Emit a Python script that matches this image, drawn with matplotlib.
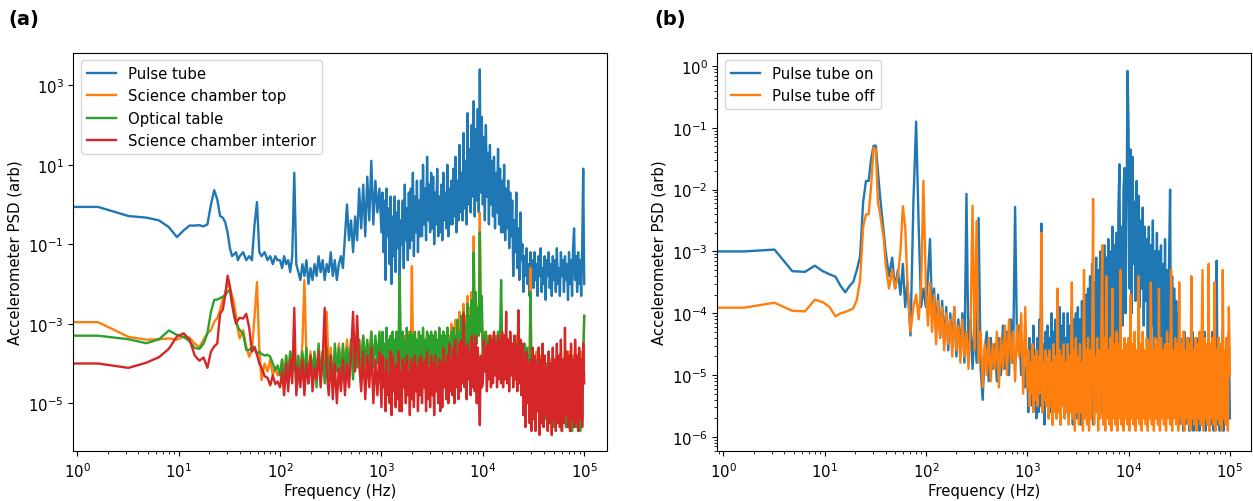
import numpy as np
import matplotlib.pyplot as plt
from matplotlib.ticker import NullLocator, NullFormatter

plt.rcParams["font.size"] = 10.7
plt.rcParams["lines.linewidth"] = 1.7

# frequency bins (Hz) below 100 Hz, then log10(f) from 100 Hz to 1 kHz and from 1 kHz to 100 kHz
freq_low = [0, 1.6, 3.2, 4.8, 6.4, 8.0, 9.6, 11.2, 12.8, 14.4,
            16, 17.6, 19.2, 20.8, 22.4, 24, 25.6, 27.2, 28.8, 30.4,
            32, 33.6, 35.2, 36.8, 38.4, 40, 43.2, 46.4, 49.6, 52.8,
            56, 59.2, 62.4, 65.6, 70.4, 75.2, 80, 84.8, 89.6, 94.4]
logf_mid = [2.00, 2.02, 2.04, 2.06, 2.08, 2.10, 2.12, 2.14, 2.16, 2.18,
            2.20, 2.22, 2.24, 2.26, 2.28, 2.30, 2.32, 2.34, 2.36, 2.38,
            2.40, 2.42, 2.44, 2.46, 2.48, 2.50, 2.52, 2.54, 2.56, 2.58,
            2.60, 2.62, 2.64, 2.66, 2.68, 2.70, 2.72, 2.74, 2.76, 2.78,
            2.80, 2.82, 2.84, 2.86, 2.88, 2.90, 2.92, 2.94, 2.96, 2.98]
logf_top = [3.00, 3.01, 3.02, 3.03, 3.04, 3.05, 3.06, 3.07, 3.08, 3.09,
            3.10, 3.11, 3.12, 3.13, 3.14, 3.15, 3.16, 3.17, 3.18, 3.19,
            3.20, 3.21, 3.22, 3.23, 3.24, 3.25, 3.26, 3.27, 3.28, 3.29,
            3.30, 3.31, 3.32, 3.33, 3.34, 3.35, 3.36, 3.37, 3.38, 3.39,
            3.40, 3.41, 3.42, 3.43, 3.44, 3.45, 3.46, 3.47, 3.48, 3.49,
            3.50, 3.51, 3.52, 3.53, 3.54, 3.55, 3.56, 3.57, 3.58, 3.59,
            3.60, 3.61, 3.62, 3.63, 3.64, 3.65, 3.66, 3.67, 3.68, 3.69,
            3.70, 3.71, 3.72, 3.73, 3.74, 3.75, 3.76, 3.77, 3.78, 3.79,
            3.80, 3.81, 3.82, 3.83, 3.84, 3.85, 3.86, 3.87, 3.88, 3.89,
            3.90, 3.91, 3.92, 3.93, 3.94, 3.95, 3.96, 3.97, 3.98, 3.99,
            4.00, 4.01, 4.02, 4.03, 4.04, 4.05, 4.06, 4.07, 4.08, 4.09,
            4.10, 4.11, 4.12, 4.13, 4.14, 4.15, 4.16, 4.17, 4.18, 4.19,
            4.20, 4.21, 4.22, 4.23, 4.24, 4.25, 4.26, 4.27, 4.28, 4.29,
            4.30, 4.31, 4.32, 4.33, 4.34, 4.35, 4.36, 4.37, 4.38, 4.39,
            4.40, 4.41, 4.42, 4.43, 4.44, 4.45, 4.46, 4.47, 4.48, 4.49,
            4.50, 4.51, 4.52, 4.53, 4.54, 4.55, 4.56, 4.57, 4.58, 4.59,
            4.60, 4.61, 4.62, 4.63, 4.64, 4.65, 4.66, 4.67, 4.68, 4.69,
            4.70, 4.71, 4.72, 4.73, 4.74, 4.75, 4.76, 4.77, 4.78, 4.79,
            4.80, 4.81, 4.82, 4.83, 4.84, 4.85, 4.86, 4.87, 4.88, 4.89,
            4.90, 4.91, 4.92, 4.93, 4.94, 4.95, 4.96, 4.97, 4.98, 4.99,
            5.00]

# (a) log10 of PSD for each sensor
pt_low = [-0.06, -0.06, -0.29, -0.33, -0.40, -0.57, -0.82, -0.65, -0.53, -0.53,
          -0.52, -0.55, -0.50, 0.00, 0.36, 0.13, -0.29, -0.33, -0.45, -0.71,
          -1.10, -1.30, -1.25, -1.20, -1.40, -1.30, -1.20, -1.40, -1.30, -1.40,
          -0.50, 0.06, -1.20, -1.30, -1.20, -1.40, -1.30, -1.50, -1.30, -1.40]
pt_mid = [-1.4, -1.6, -1.3, -1.5, -1.4, -1.7, -1.3, 0.8, -1.5, -1.7,
          -1.9, -1.5, -1.8, -1.4, -2.0, -1.6, -1.9, -1.5, -1.8, -1.3,
          -1.7, -1.4, -1.9, -1.5, -1.7, -1.2, -1.8, -1.4, -1.9, -1.5,
          -1.3, -1.6, -0.8, 0.0, -0.9, -0.4, -1.2, -0.3, -0.9, 0.4,
          -0.6, 0.5, -0.8, 0.7, -0.4, 1.1, -0.5, 0.6, -0.2, 0.4]
pt_top = [-0.7, 0.3, -1.2, 0.1, -1.9, 0.4, -0.8, -0.1, -1.5, 0.2,
          -2.0, -0.3, -1.3, 0.2, -1.7, -0.2, -1.1, 0.1, -1.8, -0.4,
          -1.0, 0.1, -1.6, 0.5, -0.9, -0.1, -1.4, 0.3, -1.1, 0.4,
          -0.9, 0.8, -1.3, 0.2, -0.7, 0.6, -1.2, 0.1, -0.8, 0.6,
          -0.8, 1.0, -0.5, 0.4, -0.9, 1.2, -0.4, 0.5, -0.7, 0.8,
          -0.6, 0.7, -1.0, 0.3, -0.5, 0.9, -0.8, 0.2, -0.7, 0.5,
          -0.9, 0.8, -0.4, 0.3, -0.6, 1.0, -0.8, 0.4, -0.5, 0.6,
          -0.5, 0.9, -0.3, 1.2, -0.7, 0.6, -0.4, 1.5, -0.2, 0.8,
          -0.4, 1.8, -0.1, 1.1, -0.5, 2.3, 0.0, 1.4, -0.2, 2.0,
          0.2, 2.6, -0.3, 1.9, 0.1, 2.4, -0.2, 3.4, 0.3, 2.2,
          0.0, 1.7, -0.4, 2.0, 0.2, 1.3, -0.5, 1.5, 0.0, 1.1,
          -0.3, 1.2, -0.6, 0.8, -0.2, 1.4, -0.5, 0.9, -0.7, 0.6,
          -0.7, 1.0, -0.9, 0.4, -0.6, 0.6, -1.1, 0.3, -0.8, 0.1,
          -1.8, -0.4, -1.2, 0.3, -1.6, -0.6, -1.9, -0.2, -1.4, -1.0,
          -2.2, -1.3, -1.8, -1.1, -2.0, -1.5, -2.3, -1.2, -1.7, -1.4,
          -2.1, -1.2, -1.9, -1.5, -2.3, -1.3, -1.8, -1.1, -2.2, -1.6,
          -2.0, -1.3, -2.4, -1.4, -1.8, -1.2, -2.1, -1.5, -2.3, -1.3,
          -1.9, -1.4, -2.2, -1.1, -2.0, -1.6, -2.3, -1.2, -1.8, -1.4,
          -2.2, -1.3, -1.9, -1.5, -2.4, -1.2, -2.0, -1.4, -2.3, -1.1,
          -0.6, -1.9, -1.3, -2.2, -1.2, -2.0, -1.4, -2.3, -1.1, 0.9,
          -2.0]

top_low = [-2.96, -2.96, -3.33, -3.40, -3.39, -3.37, -3.40, -3.33, -3.35, -3.50,
           -3.59, -3.40, -3.24, -3.16, -2.95, -2.86, -2.65, -2.40, -2.22, -1.97,
           -2.11, -2.28, -2.49, -2.82, -3.16, -3.37, -3.16, -3.58, -3.83, -3.66,
           -2.82, -1.95, -3.66, -4.42, -4.00, -4.20, -3.90, -4.30, -4.10, -4.30]
top_mid = [-4.2, -3.9, -4.4, -3.8, -4.3, -3.7, -4.1, -3.6, -4.3, -3.9,
           -4.2, -3.5, -1.9, -3.9, -4.3, -3.7, -4.4, -3.8, -4.2, -3.6,
           -4.3, -3.7, -4.0, -2.7, -4.2, -3.6, -4.5, -3.8, -4.1, -3.5,
           -4.2, -3.6, -4.0, -3.4, -4.1, -3.5, -3.9, -3.3, -4.0, -3.4,
           -3.9, -3.3, -4.2, -3.5, -3.8, -3.2, -4.1, -3.4, -3.9, -3.3]
top_top = [-4.1, -3.3, -3.8, -3.5, -4.2, -3.3, -3.9, -3.6, -4.0, -3.4,
           -3.9, -3.3, -4.2, -3.5, -3.8, -3.2, -4.1, -3.4, -3.9, -3.5,
           -4.0, -3.4, -3.8, -3.3, -4.2, -3.5, -3.9, -3.2, -4.1, -3.6,
           -1.55, -3.4, -4.0, -3.3, -3.8, -3.5, -4.1, -3.2, -3.9, -3.4,
           -4.0, -3.3, -3.8, -3.5, -4.1, -3.2, -3.9, -3.4, -4.0, -3.3,
           -3.8, -3.4, -4.1, -3.2, -3.9, -3.5, -4.0, -3.3, -3.8, -3.4,
           -3.9, -3.2, -4.0, -3.4, -3.7, -3.1, -3.9, -3.3, -3.8, -3.0,
           -3.7, -3.2, -3.9, -2.9, -3.6, -3.1, -3.8, -2.7, -3.5, -2.9,
           -3.6, -2.5, -3.4, -2.8, -3.5, -2.3, -3.3, -2.6, -3.4, -2.2,
           -3.3, -0.8, -3.2, -2.4, -3.4, -2.6, -3.1, -0.2, -3.0, -2.8,
           -3.8, -3.2, -4.0, -3.4, -3.7, -3.3, -3.9, -3.5, -4.1, -3.3,
           -3.9, -3.4, -4.2, -3.3, -3.8, -3.5, -4.0, -3.2, -4.1, -3.4,
           -4.0, -3.3, -3.9, -3.5, -4.2, -3.4, -3.8, -3.3, -4.1, -3.5,
           -3.9, -3.4, -4.2, -3.3, -4.0, -3.5, -4.3, -3.4, -4.1, -3.6,
           -4.3, -3.5, -4.5, -3.7, -4.2, -3.6, -4.6, -1.6, -4.4, -3.8,
           -4.7, -3.9, -4.9, -3.7, -4.6, -4.0, -5.0, -3.8, -4.8, -3.9,
           -4.7, -3.8, -5.0, -4.0, -4.8, -3.7, -4.9, -3.9, -4.6, -3.8,
           -5.0, -3.9, -4.7, -3.8, -4.9, -4.0, -4.8, -3.7, -5.0, -3.9,
           -4.8, -3.8, -4.6, -4.0, -4.9, -3.7, -5.0, -3.9, -4.7, -3.8,
           -4.9, -3.6, -4.8, -3.9, -5.0, -3.8, -4.7, -3.7, -4.9, -3.9,
           -2.8]

table_low = [-3.30, -3.30, -3.39, -3.49, -3.39, -3.17, -3.28, -3.33, -3.44, -3.61,
             -3.63, -3.50, -3.24, -2.70, -2.40, -2.39, -2.36, -2.32, -2.28, -2.19,
             -2.15, -2.49, -2.74, -2.95, -3.08, -3.16, -3.25, -3.66, -3.66, -3.60,
             -3.58, -3.76, -3.70, -3.76, -3.80, -3.78, -3.83, -4.00, -4.17, -4.05]
table_mid = [-4.3, -3.9, -4.5, -3.8, -4.4, -3.7, -4.2, -3.9, -4.5, -3.8,
             -4.4, -3.7, -4.3, -3.6, -4.5, -3.8, -4.2, -3.7, -4.6, -3.5,
             -4.4, -3.7, -4.5, -3.6, -4.3, -3.8, -4.6, -3.5, -4.2, -3.6,
             -4.4, -3.5, -4.3, -3.6, -4.2, -3.4, -4.4, -3.5, -4.1, -3.4,
             -4.2, -3.3, -4.0, -3.4, -4.3, -3.2, -4.1, -3.3, -4.0, -3.2]
table_top = [-4.3, -3.2, -4.0, -3.5, -4.2, -3.1, -3.9, -3.4, -4.3, -3.3,
             -4.1, -3.2, -4.2, -3.4, -4.0, -3.2, -4.3, -3.3, -1.8, -3.5,
             -4.2, -3.2, -4.0, -3.4, -4.3, -3.1, -4.1, -3.3, -4.2, -3.2,
             -4.0, -3.3, -4.3, -3.2, -4.1, -3.4, -4.2, -3.2, -4.0, -3.3,
             -4.2, -3.1, -4.1, -3.4, -4.3, -3.2, -4.0, -3.3, -4.2, -3.2,
             -4.1, -3.3, -4.3, -3.2, -4.0, -3.4, -4.2, -3.1, -4.1, -3.3,
             -4.3, -3.2, -4.0, -3.3, -4.2, -3.1, -4.1, -3.4, -4.2, -3.2,
             -4.0, -3.1, -4.2, -3.3, -3.9, -2.9, -4.1, -3.2, -3.8, -2.8,
             -3.9, -2.7, -3.7, -3.0, -3.6, -2.5, -3.8, -2.8, -3.5, -2.4,
             -3.6, -1.2, -3.4, -2.2, -3.5, -2.6, -3.3, -0.7, -3.2, -2.3,
             -3.9, -3.3, -4.1, -3.2, -4.0, -3.4, -4.2, -3.3, -3.9, -3.5,
             -4.1, -3.3, -4.2, -3.4, -4.0, -3.2, -4.3, -3.4, -1.9, -3.5,
             -4.1, -3.3, -4.2, -3.4, -4.0, -3.5, -4.3, -3.4, -4.1, -3.6,
             -4.2, -3.4, -4.4, -3.5, -4.1, -3.6, -4.3, -3.5, -4.2, -3.7,
             -4.4, -3.5, -4.3, -3.6, -4.6, -3.8, -4.5, -2.2, -4.7, -3.9,
             -4.9, -4.0, -5.0, -3.9, -5.2, -4.0, -5.0, -4.1, -5.3, -3.9,
             -5.1, -4.2, -5.4, -4.0, -5.2, -4.1, -5.5, -4.0, -5.3, -4.2,
             -5.6, -4.1, -5.4, -3.9, -5.2, -4.2, -5.5, -4.0, -5.7, -4.1,
             -5.3, -4.0, -5.6, -4.2, -5.4, -3.9, -5.5, -4.1, -5.7, -4.0,
             -5.4, -4.1, -5.6, -3.9, -5.5, -4.2, -5.7, -4.0, -5.4, -3.9,
             -2.8]

interior_low = [-4.00, -4.00, -4.11, -3.98, -3.84, -3.63, -3.32, -3.24, -3.40, -3.80,
                -3.93, -3.85, -4.11, -3.70, -3.57, -3.50, -2.75, -2.65, -2.28, -1.79,
                -2.06, -2.50, -2.80, -3.00, -2.90, -2.85, -2.87, -2.75, -3.10, -3.70,
                -3.60, -3.78, -4.00, -4.10, -4.32, -4.36, -4.55, -4.30, -4.52, -4.45]
interior_mid = [-4.6, -4.2, -4.8, -4.0, -4.7, -3.9, -4.5, -2.6, -4.8, -4.1,
                -4.6, -3.9, -4.8, -4.0, -4.5, -3.8, -4.7, -4.1, -4.4, -3.7,
                -4.6, -3.9, -2.6, -4.2, -4.8, -3.8, -4.9, -4.0, -5.0, -4.1,
                -4.7, -3.9, -4.8, -4.0, -4.6, -3.8, -2.7, -4.2, -2.8, -4.0,
                -4.7, -3.7, -4.9, -3.8, -4.6, -3.6, -5.0, -3.9, -4.8, -3.7]
interior_top = [-5.1, -3.8, -4.6, -4.2, -5.2, -3.9, -4.8, -4.3, -5.0, -3.7,
                -5.3, -3.8, -4.7, -4.1, -5.1, -4.0, -4.9, -3.7, -5.2, -4.2,
                -5.2, -3.9, -4.6, -4.0, -5.0, -3.8, -4.8, -4.2, -5.3, -3.9,
                -4.9, -4.0, -5.1, -3.8, -4.7, -4.1, -5.2, -3.9, -4.8, -3.8,
                -5.0, -4.0, -4.6, -3.9, -5.2, -3.7, -4.9, -4.1, -5.1, -3.8,
                -4.8, -4.0, -5.3, -3.8, -4.7, -4.1, -5.0, -3.9, -5.2, -4.0,
                -5.1, -3.6, -4.6, -4.0, -4.9, -3.8, -5.0, -3.5, -4.7, -3.9,
                -4.8, -3.6, -5.0, -3.4, -4.6, -3.8, -4.9, -3.5, -4.7, -3.4,
                -4.5, -2.75, -4.6, -3.6, -4.9, -3.5, -4.4, -3.7, -4.8, -3.3,
                -4.6, -3.5, -4.7, -3.3, -5.0, -3.6, -4.5, -5.55, -3.8, -4.6,
                -4.5, -3.4, -4.2, -3.6, -4.7, -3.5, -4.4, -3.3, -4.6, -3.4,
                -4.5, -3.2, -4.3, -3.5, -4.6, -3.3, -4.4, -3.4, -4.5, -3.2,
                -4.6, -3.3, -4.4, -2.7, -4.5, -3.4, -4.7, -3.2, -4.3, -3.5,
                -4.6, -3.3, -4.4, -3.6, -4.7, -2.66, -4.5, -3.4, -4.8, -3.5,
                -5.3, -3.8, -5.6, -3.7, -5.0, -4.0, -5.5, -3.9, -5.7, -3.6,
                -5.4, -3.8, -5.7, -4.0, -5.2, -3.6, -5.8, -3.9, -5.5, -3.5,
                -5.6, -3.8, -5.3, -4.1, -5.7, -3.7, -5.5, -4.0, -5.8, -3.6,
                -5.4, -3.9, -5.7, -3.5, -5.5, -3.8, -5.6, -3.4, -5.7, -3.9,
                -5.5, -3.1, -5.3, -3.7, -5.6, -3.8, -5.7, -3.5, -5.4, -3.9,
                -5.6, -3.4, -5.5, -3.8, -5.7, -3.6, -5.4, -3.9, -5.6, -3.5,
                -4.5]

# (b) log10 of PSD with the pulse tube on and off
on_low = [-3.00, -3.00, -2.97, -3.32, -3.33, -3.23, -3.32, -3.37, -3.41, -3.56,
          -3.66, -3.56, -3.49, -3.30, -3.08, -2.20, -1.86, -1.86, -1.50, -1.29,
          -1.29, -1.70, -2.10, -2.40, -2.70, -3.00, -3.40, -3.10, -3.60, -3.30,
          -3.70, -3.20, -3.90, -3.50, -4.36, -2.20, -0.90, -2.60, -3.90, -3.60]
on_mid = [-3.9, -3.4, -2.8, -4.0, -3.6, -4.3, -3.7, -4.4, -3.8, -4.5,
          -3.9, -4.6, -4.0, -4.5, -3.9, -4.7, -4.1, -4.6, -4.0, -4.8,
          -2.07, -4.7, -4.1, -4.9, -4.2, -4.8, -2.46, -4.9, -5.4, -4.6,
          -4.3, -5.1, -4.4, -4.9, -4.5, -5.1, -4.4, -5.0, -4.2, -4.9,
          -4.3, -5.0, -4.1, -4.8, -2.28, -4.6, -4.2, -5.0, -4.5, -5.2]
on_top = [-4.8, -5.6, -4.4, -5.3, -4.7, -5.5, -4.2, -5.4, -4.6, -5.7,
          -4.4, -5.6, -4.1, -5.5, -2.55, -5.6, -4.5, -5.8, -4.3, -5.5,
          -4.2, -5.7, -4.4, -5.6, -4.0, -5.8, -4.3, -5.5, -4.1, -5.7,
          -4.3, -5.6, -3.9, -5.8, -4.2, -5.5, -4.0, -5.7, -4.4, -5.6,
          -4.0, -5.7, -4.2, -5.6, -3.9, -5.8, -4.1, -5.5, -4.0, -5.7,
          -3.9, -5.6, -4.1, -5.8, -3.8, -5.5, -4.0, -5.7, -3.7, -5.6,
          -3.6, -5.7, -3.4, -5.5, -3.2, -5.8, -3.5, -5.6, -3.1, -5.5,
          -3.3, -5.4, -3.0, -5.6, -3.2, -5.3, -2.9, -5.5, -3.1, -5.2,
          -2.8, -5.0, -3.0, -4.8, -2.6, -5.1, -2.9, -4.7, -2.7, -4.9,
          -2.3, -1.59, -4.5, -2.6, -4.2, -2.0, -1.65, -4.0, -2.4, -0.08,
          -1.0, -3.6, -1.35, -4.0, -1.47, -3.2, -2.2, -3.8, -1.86, -3.5,
          -2.1, -3.9, -2.5, -3.6, -2.29, -4.2, -2.6, -3.8, -2.8, -4.4,
          -2.6, -4.5, -2.9, -4.2, -2.5, -4.7, -3.0, -4.4, -2.7, -4.8,
          -3.0, -4.6, -2.9, -5.0, -3.2, -4.7, -2.8, -5.1, -3.3, -4.9,
          -3.1, -2.0, -5.2, -3.4, -5.4, -3.6, -5.6, -3.8, -5.7, -4.0,
          -5.8, -4.4, -5.7, -4.5, -5.9, -4.3, -5.8, -4.6, -5.7, -4.4,
          -5.9, -4.5, -5.8, -4.3, -5.9, -4.6, -5.7, -4.4, -5.8, -4.5,
          -5.9, -4.4, -5.8, -4.6, -5.7, -4.3, -5.9, -4.5, -5.8, -4.4,
          -5.9, -4.5, -5.8, -4.3, -5.9, -4.6, -5.7, -3.15, -5.8, -4.4,
          -5.9, -4.5, -5.8, -4.3, -5.9, -4.6, -5.7, -4.4, -5.8, -4.3,
          -5.7]

off_low = [-3.91, -3.91, -3.83, -3.96, -3.97, -3.78, -3.82, -3.90, -4.05, -4.00,
           -3.98, -3.95, -3.92, -3.78, -3.46, -2.60, -2.40, -2.40, -1.93, -1.32,
           -1.35, -2.21, -2.38, -2.60, -2.81, -3.20, -3.60, -3.30, -3.60, -3.40,
           -3.00, -2.27, -2.60, -3.50, -4.30, -3.90, -3.70, -4.10, -3.60, -1.86]
off_mid = [-3.6, -4.2, -3.5, -4.3, -3.7, -4.5, -3.8, -4.4, -3.9, -4.6,
           -4.0, -4.5, -4.1, -4.7, -3.9, -4.6, -4.2, -4.8, -4.1, -4.7,
           -4.3, -4.9, -4.2, -2.26, -4.6, -2.51, -4.8, -4.3, -5.2, -4.5,
           -5.0, -4.4, -5.1, -4.5, -4.9, -4.3, -5.2, -4.4, -4.9, -4.2,
           -5.0, -4.1, -4.8, -4.3, -5.1, -4.2, -4.7, -4.0, -5.3, -3.9]
off_top = [-5.2, -4.6, -5.5, -4.8, -5.3, -4.5, -5.6, -4.7, -5.4, -4.6,
           -5.5, -4.7, -5.3, -4.5, -2.7, -5.6, -4.8, -5.4, -4.6, -5.5,
           -4.7, -5.7, -4.6, -5.5, -4.8, -5.8, -4.5, -5.6, -4.7, -5.7,
           -3.6, -5.6, -4.6, -5.8, -4.7, -5.5, -4.5, -5.7, -4.8, -5.6,
           -4.5, -5.8, -4.7, -5.6, -3.5, -5.7, -4.6, -5.9, -4.4, -5.6,
           -4.7, -5.8, -4.5, -5.6, -4.8, -5.9, -3.3, -5.7, -4.6, -5.8,
           -4.4, -5.9, -4.6, -5.7, -4.5, -2.15, -5.8, -4.7, -5.6, -4.4,
           -5.9, -4.6, -5.7, -4.5, -2.9, -5.8, -4.4, -5.9, -3.4, -5.7,
           -4.6, -5.8, -4.4, -5.9, -3.6, -5.7, -4.5, -5.8, -4.3, -5.9,
           -4.5, -5.7, -3.3, -5.8, -4.6, -5.9, -4.4, -5.7, -4.5, -5.8,
           -4.4, -5.9, -3.7, -5.7, -4.5, -5.8, -4.3, -5.9, -4.6, -5.7,
           -3.4, -5.8, -4.5, -5.9, -4.3, -5.7, -4.6, -5.8, -4.4, -5.9,
           -4.5, -5.7, -3.5, -5.8, -4.6, -5.9, -4.4, -5.7, -4.5, -5.8,
           -3.6, -5.9, -4.4, -5.7, -4.6, -5.8, -4.5, -5.9, -4.3, -5.7,
           -4.5, -5.8, -3.3, -5.9, -4.6, -5.7, -4.4, -5.8, -4.5, -5.9,
           -3.5, -5.7, -4.5, -5.8, -4.3, -5.9, -4.6, -5.7, -4.4, -5.8,
           -4.5, -5.9, -3.4, -5.7, -4.6, -5.8, -4.4, -5.9, -4.5, -5.7,
           -4.3, -5.8, -4.6, -3.3, -5.9, -4.4, -5.7, -4.5, -5.8, -3.2,
           -5.9, -4.5, -5.7, -4.4, -5.8, -3.5, -5.9, -4.6, -5.7, -4.4,
           -5.8, -4.5, -5.9, -3.3, -5.7, -4.6, -5.8, -4.4, -5.9, -3.9,
           -5.0]

freq = np.concatenate([freq_low, 10 ** np.array(logf_mid + logf_top)])
xticks = [1e0, 1e1, 1e2, 1e3, 1e4, 1e5]


def psd(low, mid, top):
    return 10 ** np.array(low + mid + top)


fig = plt.figure(figsize=(12.53, 5.02), dpi=100)
ax1 = fig.add_axes([0.0585, 0.099, 0.4262, 0.7944])
ax2 = fig.add_axes([0.5725, 0.099, 0.4262, 0.7944])

# (a) sensors
ax1.plot(freq, psd(pt_low, pt_mid, pt_top), label="Pulse tube")
ax1.plot(freq, psd(top_low, top_mid, top_top), label="Science chamber top")
ax1.plot(freq, psd(table_low, table_mid, table_top), label="Optical table")
ax1.plot(freq, psd(interior_low, interior_mid, interior_top), label="Science chamber interior")
ax1.set_xscale("log")
ax1.set_yscale("log")
ax1.set_xlim(0.913, 1.69e5)
ax1.set_ylim(6.18e-7, 6.67e3)
ax1.set_xticks(xticks)
ax1.set_yticks([1e-5, 1e-3, 1e-1, 1e1, 1e3])
ax1.yaxis.set_minor_locator(NullLocator())
ax1.xaxis.set_minor_formatter(NullFormatter())
ax1.set_xlabel("Frequency (Hz)", labelpad=2)
ax1.set_ylabel("Accelerometer PSD (arb)")
ax1.legend(loc="upper left")

# (b) pulse tube on/off
ax2.plot(freq, psd(on_low, on_mid, on_top), label="Pulse tube on")
ax2.plot(freq, psd(off_low, off_mid, off_top), label="Pulse tube off")
ax2.set_xscale("log")
ax2.set_yscale("log")
ax2.set_xlim(0.873, 1.63e5)
ax2.set_ylim(5.85e-7, 1.65)
ax2.set_xticks(xticks)
ax2.set_yticks([1e-6, 1e-5, 1e-4, 1e-3, 1e-2, 1e-1, 1e0])
ax2.xaxis.set_minor_formatter(NullFormatter())
ax2.yaxis.set_minor_formatter(NullFormatter())
ax2.set_xlabel("Frequency (Hz)", labelpad=2)
ax2.set_ylabel("Accelerometer PSD (arb)")
ax2.legend(loc="upper left")

fig.text(0.007, 1 - 10 / 502, "(a)", fontsize=14, fontweight="bold", va="top")
fig.text(0.5224, 1 - 10 / 502, "(b)", fontsize=14, fontweight="bold", va="top")

fig.savefig("out.png", dpi=100)
